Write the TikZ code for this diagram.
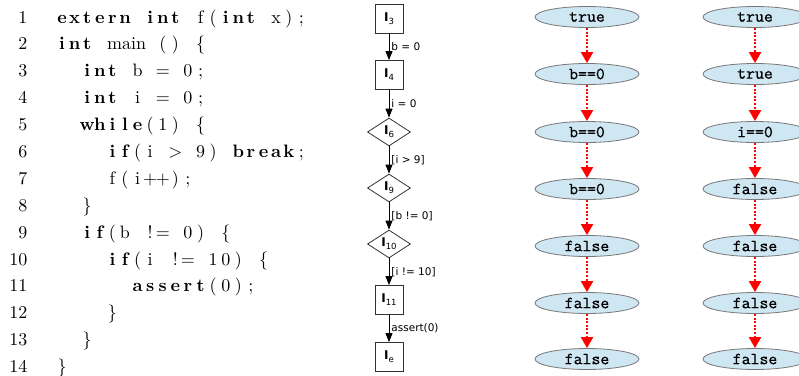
\documentclass[tikz,border=0pt]{standalone}
\usepackage{fontspec}
\newfontfamily\dv{DejaVu Sans}
\newfontfamily\codefont{lmroman10}[Extension=.otf, UprightFont=*-regular, BoldFont=*-bold]
\newfontfamily\ellfont{lmmono10}[Extension=.otf, UprightFont=*-regular, FakeBold=0.5]
\usetikzlibrary{shapes.geometric,arrows.meta}
\definecolor{ellfill}{RGB}{207,230,243}
\definecolor{ellline}{RGB}{120,120,120}
\definecolor{boxline}{RGB}{50,50,50}
\ExplSyntaxOn
\cs_new:Npn \cells #1 { \tl_map_inline:nn {#1} { \makebox[12.6pt][c]{##1} } }
\ExplSyntaxOff
\newcommand{\kw}[1]{{\bfseries\cells{#1}}}
\newcommand{\cfgl}[1]{{\fontsize{12}{12}\selectfont\bfseries I}\raisebox{-3pt}{\fontsize{8.5}{8.5}\selectfont #1}}
\tikzset{
  lnum/.style={anchor=base east, inner sep=0pt, font=\codefont\fontsize{18}{18}\selectfont},
  codeline/.style={anchor=base west, inner sep=0pt, font=\codefont\fontsize{18}{18}\selectfont},
  cfgbox/.style={draw=boxline, line width=0.8pt, minimum width=28pt, minimum height=29pt, inner sep=0pt, font=\dv},
  cfgdia/.style={diamond, draw=boxline, line width=0.8pt, minimum width=43pt, minimum height=28pt, inner sep=0pt, font=\dv},
  cfgarrow/.style={draw=black, line width=0.9pt, -{Triangle[width=7pt,length=9pt]}},
  elab/.style={anchor=west, inner sep=1pt, xshift=1pt, font=\dv\fontsize{10.5}{11}\selectfont},
  ell/.style={ellipse, draw=ellline, line width=0.8pt, fill=ellfill, minimum width=104pt, minimum height=21pt, inner sep=0pt, font=\ellfont\fontsize{17}{17}\selectfont},
  redarrow/.style={draw=red, line width=2pt, dash pattern=on 2pt off 1.6pt, -{Triangle[width=12pt,length=11pt]}}
}
\begin{document}
\begin{tikzpicture}[x=1pt,y=-1pt]
\useasboundingbox (0,0) rectangle (799,375);
% code listing
\foreach \k in {1,...,14} {
  \node[lnum] (n\k) at (27.5,{23.1+26.88*(\k-1)}) {\k};
}
\node[codeline] (c1) at (55.5,23.1) {\kw{extern}\cells{~}\kw{int}\cells{~f(}\kw{int}\cells{~x);}};
\node[codeline] (c2) at (55.5,49.98) {\kw{int}\cells{~}\makebox[50.4pt][l]{\hspace{1pt}main}\cells{()~\{}};
\node[codeline] (c3) at (80.7,76.86) {\kw{int}\cells{~b~=~0;}};
\node[codeline] (c4) at (80.7,103.74) {\kw{int}\cells{~i~=~0;}};
\node[codeline] (c5) at (80.7,130.62) {\kw{while}\cells{(1)~\{}};
\node[codeline] (c6) at (105.9,157.5) {\kw{if}\cells{(i~>~9)~}\kw{break}\cells{;}};
\node[codeline] (c7) at (105.9,184.38) {\cells{f(i++);}};
\node[codeline] (c8) at (80.7,211.26) {\cells{\}}};
\node[codeline] (c9) at (80.7,238.14) {\kw{if}\cells{(b~!=~0)~\{}};
\node[codeline] (c10) at (105.9,265.02) {\kw{if}\cells{(i~!=~10)~\{}};
\node[codeline] (c11) at (131.1,291.9) {\kw{assert}\cells{(0);}};
\node[codeline] (c12) at (105.9,318.78) {\cells{\}}};
\node[codeline] (c13) at (80.7,345.66) {\cells{\}}};
\node[codeline] (c14) at (55.5,372.54) {\cells{\}}};
% CFG
\node[cfgbox] (i3) at (389,18.5) {\cfgl{3}};
\node[cfgbox] (i4) at (389,75) {\cfgl{4}};
\node[cfgdia] (i6) at (389,132) {\cfgl{6}};
\node[cfgdia] (i9) at (389,188) {\cfgl{9}};
\node[cfgdia] (i10) at (389,244) {\cfgl{10}};
\node[cfgbox] (i11) at (389,300) {\cfgl{11}};
\node[cfgbox] (ie) at (389,357) {\cfgl{e}};
\draw[cfgarrow] (i3) -- node[elab] {b = 0} (i4);
\draw[cfgarrow] (i4) -- node[elab] {i = 0} (i6);
\draw[cfgarrow] (i6) -- node[elab] {[i > 9]} (i9);
\draw[cfgarrow] (i9) -- node[elab] {[b != 0]} (i10);
\draw[cfgarrow] (i10) -- node[elab] {[i != 10]} (i11);
\draw[cfgarrow] (i11) -- node[elab] {assert(0)} (ie);
% ellipse columns
\node[ell] (a1) at (587,17) {true};
\node[ell] (a2) at (587,74) {b==0};
\node[ell] (a3) at (587,132) {b==0};
\node[ell] (a4) at (587,189) {b==0};
\node[ell] (a5) at (587,246) {false};
\node[ell] (a6) at (587,303) {false};
\node[ell] (a7) at (587,359) {false};
\node[ell] (b1) at (755,17) {true};
\node[ell] (b2) at (755,74) {true};
\node[ell] (b3) at (755,132) {i==0};
\node[ell] (b4) at (755,189) {false};
\node[ell] (b5) at (755,246) {false};
\node[ell] (b6) at (755,303) {false};
\node[ell] (b7) at (755,359) {false};
\foreach \p/\q in {1/2,2/3,3/4,4/5,5/6,6/7} {
  \draw[redarrow] (a\p) -- (a\q);
  \draw[redarrow] (b\p) -- (b\q);
}
\end{tikzpicture}
\end{document}
